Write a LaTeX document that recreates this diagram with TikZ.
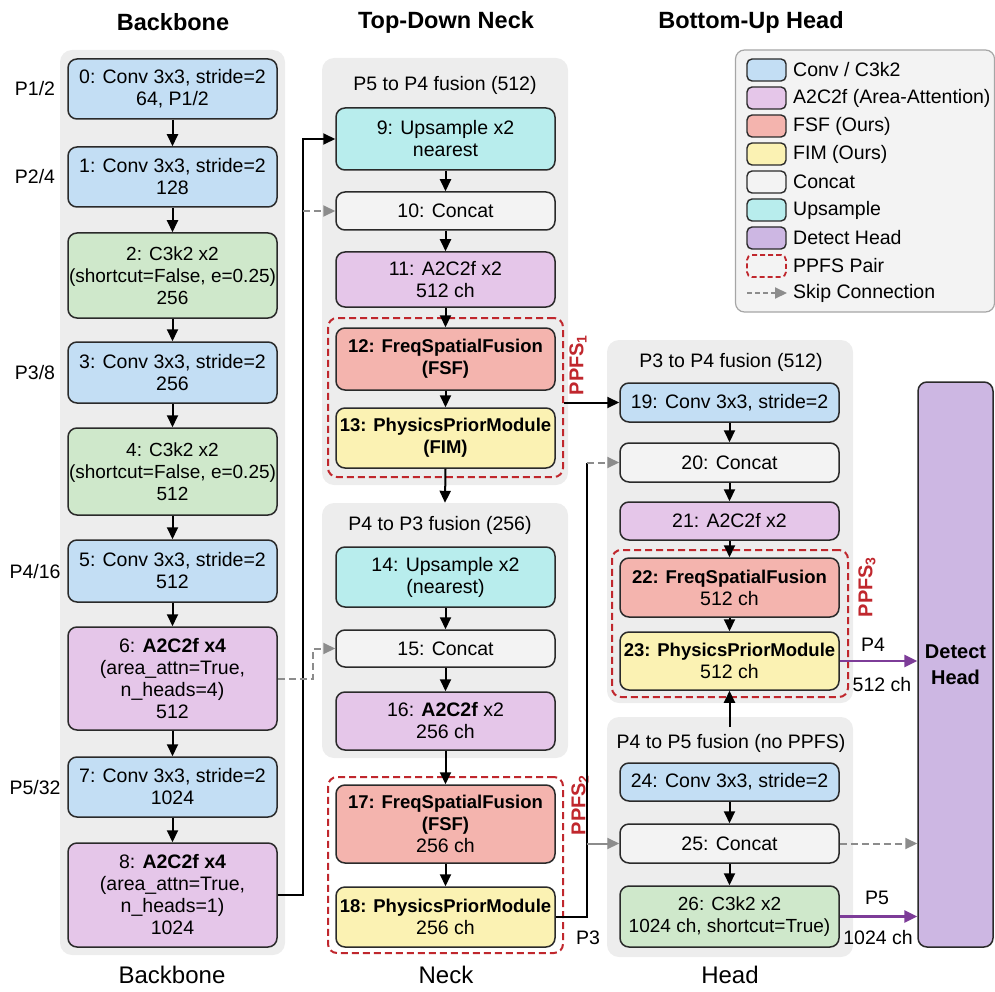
\documentclass[tikz,border=0pt]{standalone}
\usepackage{fontspec}
\setmainfont{Liberation Sans}
\usetikzlibrary{arrows.meta}
\definecolor{cconv}{HTML}{C3DEF4}
\definecolor{cgreen}{HTML}{CFE8CB}
\definecolor{ca2}{HTML}{E5C6E9}
\definecolor{cfsf}{HTML}{F4B4AE}
\definecolor{cfim}{HTML}{FBF2B3}
\definecolor{ccat}{HTML}{F3F3F3}
\definecolor{cups}{HTML}{B8EDED}
\definecolor{cdet}{HTML}{CDB7E3}
\definecolor{cpanel}{HTML}{EDEDED}
\definecolor{cred}{HTML}{C0272D}
\definecolor{cpurp}{HTML}{7D3C98}
\definecolor{cgray}{HTML}{8C8C8C}
\definecolor{cedge}{HTML}{2A2A2A}
\newcommand\nfs{\fontsize{19.5}{22}\selectfont}
\newcommand\bfs{\fontsize{18.5}{22}\selectfont\bfseries}
\tikzset{
  blk/.style={draw=cedge, line width=1.5pt, rounded corners=9pt, align=center, font=\nfs, inner sep=1pt},
  bbw/.style={blk, minimum width=209pt},
  nkw/.style={blk, minimum width=219pt},
  panel/.style={fill=cpanel, draw=none, rounded corners=12pt},
  ppfsbox/.style={draw=cred, line width=2pt, dash pattern=on 7pt off 4pt, rounded corners=9pt},
  arr/.style={draw=black, line width=2pt, -{Triangle[length=12pt,width=11pt]}},
  plain/.style={draw=black, line width=2pt},
  skiparr/.style={draw=cgray, line width=2pt, dash pattern=on 7pt off 4pt, -{Triangle[length=12pt,width=11pt]}},
  grayarr/.style={draw=cgray, line width=2pt, -{Triangle[length=12pt,width=11pt]}},
  parr/.style={draw=cpurp, line width=2.8pt, -{Triangle[length=13pt,width=12pt]}},
  lbl/.style={font=\nfs, inner sep=0pt},
  ttl/.style={font=\fontsize{23.5}{26}\selectfont\bfseries, inner sep=0pt},
  btl/.style={font=\fontsize{24}{26}\selectfont, inner sep=0pt},
  ppl/.style={rotate=90, text=cred, font=\fontsize{20}{22}\selectfont\bfseries, inner sep=0pt},
  sw/.style={draw=cedge, line width=1.4pt, rounded corners=5pt, minimum width=39pt, minimum height=22pt, inner sep=0pt},
}
\begin{document}
\begin{tikzpicture}[x=1pt,y=-1pt]
\useasboundingbox (0,0) rectangle (995,992);
% titles
\node[ttl] (t1) at (173,22) {Backbone};
\node[ttl] (t2) at (446,22) {Top-Down Neck};
\node[ttl] (t3) at (751,22) {Bottom-Up Head};
\node[btl] (b1) at (172,975) {Backbone};
\node[btl] (b2) at (446,975) {Neck};
\node[btl] (b3) at (730,975) {Head};
% panels
\fill[panel] (60,50) rectangle (285,955);
\node[panel, minimum width=246pt, minimum height=427pt, inner sep=0pt] (pan1) at (445,271.5) {};
\node[panel, minimum width=246pt, minimum height=255pt, inner sep=0pt] (pan2) at (445,630.5) {};
\node[panel, minimum width=246pt, minimum height=363pt, inner sep=0pt] (pan3) at (730,521.5) {};
\node[panel, minimum width=246pt, minimum height=240pt, inner sep=0pt] (pan4) at (730,837) {};
\node[lbl] (pt1) at (445,85) {P5 to P4 fusion (512)};
\node[lbl] (pt2) at (440,525) {P4 to P3 fusion (256)};
\node[lbl] (pt3) at (731,362) {P3 to P4 fusion (512)};
\node[lbl] (pt4) at (731,743) {P4 to P5 fusion (no PPFS)};
% PPFS boxes
\node[ppfsbox, minimum width=235pt, minimum height=159pt, inner sep=0pt] (ppfs1) at (445.5,397.5) {};
\node[ppfsbox, minimum width=235pt, minimum height=176pt, inner sep=0pt] (ppfs2) at (445.5,865) {};
\node[ppfsbox, minimum width=236pt, minimum height=147pt, inner sep=0pt] (ppfs3) at (730,623.5) {};
\node[ppl] (pl1) at (578,365) {PPFS\textsubscript{1}};
\node[ppl] (pl2) at (580,805) {PPFS\textsubscript{2}};
\node[ppl] (pl3) at (867,587) {PPFS\textsubscript{3}};
% backbone nodes
\node[bbw, fill=cconv, minimum height=60pt] (n0) at (172.5,89) {0: Conv 3x3, stride=2\\64, P1/2};
\node[bbw, fill=cconv, minimum height=60pt] (n1) at (172.5,177) {1: Conv 3x3, stride=2\\128};
\node[bbw, fill=cgreen, minimum height=85pt, font=\fontsize{19}{22}\selectfont] (n2) at (172.5,275.5) {2: C3k2 x2\\(shortcut=False, e=0.25)\\256};
\node[bbw, fill=cconv, minimum height=61pt] (n3) at (172.5,372.5) {3: Conv 3x3, stride=2\\256};
\node[bbw, fill=cgreen, minimum height=87pt, font=\fontsize{19}{22}\selectfont] (n4) at (172.5,471.5) {4: C3k2 x2\\(shortcut=False, e=0.25)\\512};
\node[bbw, fill=cconv, minimum height=62pt] (n5) at (172.5,571) {5: Conv 3x3, stride=2\\512};
\node[bbw, fill=ca2, minimum height=103pt] (n6) at (172.5,678.5) {6: \textbf{A2C2f x4}\\(area\_attn=True,\\n\_heads=4)\\512};
\node[bbw, fill=cconv, minimum height=60pt] (n7) at (172.5,787) {7: Conv 3x3, stride=2\\1024};
\node[bbw, fill=ca2, minimum height=104pt] (n8) at (172.5,895) {8: \textbf{A2C2f x4}\\(area\_attn=True,\\n\_heads=1)\\1024};
\node[lbl] (s1) at (35,89) {P1/2};
\node[lbl] (s2) at (35,177) {P2/4};
\node[lbl] (s3) at (35,373) {P3/8};
\node[lbl] (s4) at (35,572) {P4/16};
\node[lbl] (s5) at (35,788) {P5/32};
% neck nodes
\node[nkw, fill=cups, minimum height=62pt] (n9) at (445.5,139) {9: Upsample x2\\nearest};
\node[nkw, fill=ccat, minimum height=38pt] (n10) at (445.5,211) {10: Concat};
\node[nkw, fill=ca2, minimum height=55pt] (n11) at (445.5,279.5) {11: A2C2f x2\\512 ch};
\node[nkw, fill=cfsf, minimum height=62pt, font=\bfs] (n12) at (445.5,359) {12: FreqSpatialFusion\\(FSF)};
\node[nkw, fill=cfim, minimum height=60pt, font=\bfs] (n13) at (445.5,438) {13: PhysicsPriorModule\\(FIM)};
\node[nkw, fill=cups, minimum height=60pt] (n14) at (445.5,577) {14: Upsample x2\\(nearest)};
\node[nkw, fill=ccat, minimum height=37pt] (n15) at (445.5,648.5) {15: Concat};
\node[nkw, fill=ca2, minimum height=58pt] (n16) at (445.5,721) {16: \textbf{A2C2f} x2\\256 ch};
\node[nkw, fill=cfsf, minimum height=78pt] (n17) at (445.5,824) {{\bfs 17: FreqSpatialFusion}\\{\bfs (FSF)}\\256 ch};
\node[nkw, fill=cfim, minimum height=60pt] (n18) at (445.5,917) {{\bfs 18: PhysicsPriorModule}\\256 ch};
% head nodes
\node[nkw, fill=cconv, minimum height=39pt] (n19) at (729.5,402.5) {19: Conv 3x3, stride=2};
\node[nkw, fill=ccat, minimum height=39pt] (n20) at (729.5,462.5) {20: Concat};
\node[nkw, fill=ca2, minimum height=38pt] (n21) at (729.5,521) {21: A2C2f x2};
\node[nkw, fill=cfsf, minimum height=59pt] (n22) at (729.5,587.5) {{\bfs 22: FreqSpatialFusion}\\512 ch};
\node[nkw, fill=cfim, minimum height=58pt] (n23) at (729.5,661) {{\bfs 23: PhysicsPriorModule}\\512 ch};
\node[nkw, fill=cconv, minimum height=38pt] (n24) at (729.5,782) {24: Conv 3x3, stride=2};
\node[nkw, fill=ccat, minimum height=39pt] (n25) at (729.5,843.5) {25: Concat};
\node[nkw, fill=cgreen, minimum height=61pt, font=\fontsize{19}{22}\selectfont] (n26) at (729.5,916.5) {26: C3k2 x2\\1024 ch, shortcut=True)};
\node[blk, fill=cdet, minimum width=75pt, minimum height=565pt, font=\fontsize{20}{26}\selectfont\bfseries] (det) at (955.5,664.5) {Detect\\Head};
% backbone arrows
\foreach \a/\b in {n0/n1,n1/n2,n2/n3,n3/n4,n4/n5,n5/n6,n6/n7,n7/n8,n9/n10,n10/n11,n11/n12,n12/n13,n14/n15,n15/n16,n16/n17,n17/n18,n19/n20,n20/n21,n21/n22,n22/n23,n24/n25,n25/n26}
  \draw[arr] (\a.south) -- (\b.north);
% backbone to neck
\draw[arr] (n8.east) -- ++(25,0) |- (n9.west);
\coordinate (sk10) at (303,211);
\draw[skiparr] (sk10) -- (n10.west);
\draw[skiparr] (n6.east) -- ++(35,0) |- (n15.west);
\draw[arr] (n13.south) -- (pan2.north);
\draw[arr] (ppfs1.east |- n19.west) -- (n19.west);
% P3 output
\draw[plain] (n18.east) -- ++(31,0) coordinate (v18) -- (v18 |- n20.west);
\draw[skiparr] (v18 |- n20.west) -- (n20.west);
\draw[grayarr] (v18 |- n25.west) -- (n25.west);
\node[lbl] (p3l) at (588,938) {P3};
% head up
\coordinate (up4) at (729.5,727);
\draw[arr] (up4) -- (n23.south);
% outputs
\draw[parr] (n23.east) -- (n23.east -| det.west);
\draw[parr] (n26.east) -- (n26.east -| det.west);
\draw[skiparr] (n25.east) -- (n25.east -| det.west);
\node[lbl] (o1) at (873,645) {P4};
\node[lbl] (o2) at (882,685) {512 ch};
\node[lbl] (o3) at (877,898) {P5};
\node[lbl] (o4) at (878,938) {1024 ch};
% legend
\node[draw=black!35, line width=1.2pt, fill=ccat, rounded corners=9pt, minimum width=259pt, minimum height=262pt, inner sep=0pt] (leg) at (865,181) {};
\node[sw, fill=cconv] (l1) at (766.5,70) {};
\node[sw, fill=ca2] (l2) at (766.5,98) {};
\node[sw, fill=cfsf] (l3) at (766.5,126) {};
\node[sw, fill=cfim] (l4) at (766.5,154) {};
\node[sw, fill=ccat] (l5) at (766.5,182) {};
\node[sw, fill=cups] (l6) at (766.5,210) {};
\node[sw, fill=cdet] (l7) at (766.5,238) {};
\node[sw, draw=cred, line width=1.8pt, dash pattern=on 5pt off 3pt] (l8) at (766.5,266) {};
\coordinate (l9a) at (747,293);
\coordinate (l9b) at (787,293);
\draw[skiparr, dash pattern=on 5pt off 3pt] (l9a) -- (l9b);
\node[lbl, anchor=west] (lt1) at (793,70) {Conv / C3k2};
\node[lbl, anchor=west] (lt2) at (793,98) {A2C2f (Area-Attention)};
\node[lbl, anchor=west] (lt3) at (793,126) {FSF (Ours)};
\node[lbl, anchor=west] (lt4) at (793,154) {FIM (Ours)};
\node[lbl, anchor=west] (lt5) at (793,182) {Concat};
\node[lbl, anchor=west] (lt6) at (793,210) {Upsample};
\node[lbl, anchor=west] (lt7) at (793,238) {Detect Head};
\node[lbl, anchor=west] (lt8) at (793,266) {PPFS Pair};
\node[lbl, anchor=west] (lt9) at (793,293) {Skip Connection};
\end{tikzpicture}
\end{document}
